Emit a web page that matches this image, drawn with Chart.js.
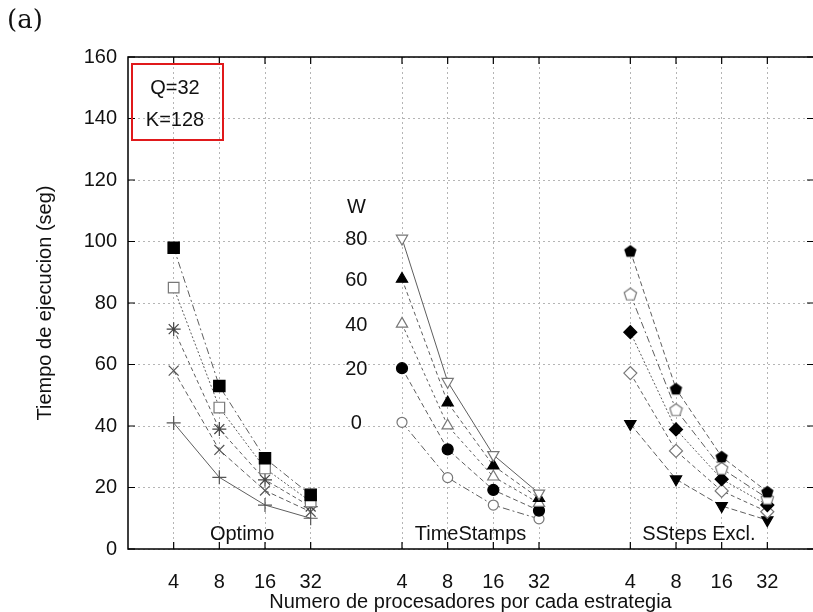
<!DOCTYPE html>
<html><head><meta charset="utf-8">
<script src="https://cdn.jsdelivr.net/npm/chart.js@4"></script>
<style>html,body{margin:0;padding:0;background:#fff}#wrap{width:813px;height:612px}</style>
</head><body><div id="wrap"><canvas id="c" width="813" height="612"></canvas></div>
<script>
// ---- data ----
const procs = ['4', '8', '16', '32'];
const groups = ['Optimo', 'TimeStamps', 'SSteps Excl.'];
const wLevels = ['80', '60', '40', '20', '0'];
const yTickValues = [0, 20, 40, 60, 80, 100, 120, 140, 160];
const keyLines = ['Q=32', 'K=128'];

const optimoW80 = [98.0, 53.0, 29.5, 17.6];
const optimoW60 = [85.0, 46.0, 26.2, 15.4];
const optimoW40 = [71.5, 39.0, 22.5, 13.8];
const optimoW20 = [58.0, 32.2, 19.0, 12.1];
const optimoW0  = [41.0, 23.3, 14.3, 10.0];

const timeStampsW80 = [101.0, 54.4, 30.6, 18.1];
const timeStampsW60 = [87.8, 47.6, 27.1, 16.5];
const timeStampsW40 = [73.2, 40.1, 23.5, 14.9];
const timeStampsW20 = [58.8, 32.4, 19.2, 12.5];
const timeStampsW0  = [41.2, 23.2, 14.3, 9.8];

const sstepsW80 = [96.9, 52.1, 30.0, 18.6];
const sstepsW60 = [82.9, 45.3, 26.2, 16.5];
const sstepsW40 = [70.5, 38.9, 22.7, 14.3];
const sstepsW20 = [57.2, 31.9, 18.9, 12.1];
const sstepsW0  = [40.7, 22.7, 14.0, 9.4];

// ---- styling ----
const FONT = '"Liberation Sans", Arial, Helvetica, sans-serif';
const LINE = '#5e5e5e';
const OPEN = '#777777';

function pentagon(filled) {
  const c = document.createElement('canvas');
  c.width = 15; c.height = 15;
  const g = c.getContext('2d');
  g.beginPath();
  for (let k = 0; k < 5; k++) {
    const a = -Math.PI / 2 + k * 2 * Math.PI / 5;
    const px = 7.5 + 6.5 * Math.cos(a), py = 8 + 6.5 * Math.sin(a);
    k ? g.lineTo(px, py) : g.moveTo(px, py);
  }
  g.closePath();
  if (filled) { g.fillStyle = '#000'; g.fill(); }
  else { g.fillStyle = '#fff'; g.fill(); g.strokeStyle = OPEN; g.lineWidth = 1.2; g.stroke(); }
  return c;
}

const seriesByGroup = [
  [optimoW80, optimoW60, optimoW40, optimoW20, optimoW0],
  [timeStampsW80, timeStampsW60, timeStampsW40, timeStampsW20, timeStampsW0],
  [sstepsW80, sstepsW60, sstepsW40, sstepsW20, sstepsW0]
];

const markerStyles = [
  [
    {ps: 'rect', r: 8, fill: '#000', stroke: '#000', rot: 0, dash: [7, 3, 2, 3]},
    {ps: 'rect', r: 7.5, fill: '#fff', stroke: OPEN, rot: 0, dash: [2, 2]},
    {ps: 'star', r: 7, fill: '#444', stroke: '#444', rot: 0, dash: [4, 3]},
    {ps: 'crossRot', r: 7, fill: '#555', stroke: '#555', rot: 0, dash: [5, 3]},
    {ps: 'cross', r: 7, fill: '#555', stroke: '#555', rot: 0, dash: []}
  ],
  [
    {ps: 'triangle', r: 6.5, fill: '#fff', stroke: OPEN, rot: 180, dash: []},
    {ps: 'triangle', r: 6.5, fill: '#000', stroke: '#000', rot: 0, dash: [4, 3]},
    {ps: 'triangle', r: 6.5, fill: '#fff', stroke: OPEN, rot: 0, dash: [3, 3]},
    {ps: 'circle', r: 5.5, fill: '#000', stroke: '#000', rot: 0, dash: [5, 3]},
    {ps: 'circle', r: 5, fill: '#fff', stroke: OPEN, rot: 0, dash: [7, 3, 2, 3]}
  ],
  [
    {ps: pentagon(true), r: 7, fill: '#000', stroke: '#000', rot: 0, dash: [5, 3]},
    {ps: pentagon(false), r: 7, fill: '#fff', stroke: OPEN, rot: 0, dash: [7, 3, 2, 3]},
    {ps: 'rectRot', r: 6.5, fill: '#000', stroke: '#000', rot: 0, dash: [2, 2]},
    {ps: 'rectRot', r: 6.5, fill: '#fff', stroke: OPEN, rot: 0, dash: [4, 3]},
    {ps: 'triangle', r: 6.5, fill: '#000', stroke: '#000', rot: 180, dash: [6, 3]}
  ]
];

// slot position on the x axis: each group occupies 4 slots followed by a gap slot
const slotOf = (g, i) => g * 5 + i + 1;

const datasets = [];
seriesByGroup.forEach((list, g) => {
  list.forEach((vals, w) => {
    const m = markerStyles[g][w];
    datasets.push({
      label: groups[g] + ' W=' + wLevels[w],
      data: vals.map((v, i) => ({x: slotOf(g, i), y: v})),
      borderColor: LINE,
      borderWidth: 1,
      borderDash: m.dash,
      pointStyle: m.ps,
      pointRadius: m.r,
      pointRotation: m.rot,
      pointBackgroundColor: m.fill,
      pointBorderColor: m.stroke,
      pointBorderWidth: 1.2,
      tension: 0,
      fill: false
    });
  });
});

const xTickValues = [];
groups.forEach((_, g) => procs.forEach((_, i) => xTickValues.push(slotOf(g, i))));

const decor = {
  id: 'decor',
  afterDatasetsDraw(chart) {
    const {ctx, chartArea: a, scales: {x, y}} = chart;
    const right = chart.width;
    ctx.save();
    // frame (right side falls just outside the picture)
    ctx.strokeStyle = '#000';
    ctx.lineWidth = 1.5;
    ctx.beginPath();
    ctx.moveTo(right, a.top); ctx.lineTo(a.left, a.top); ctx.lineTo(a.left, a.bottom); ctx.lineTo(right, a.bottom);
    ctx.stroke();
    // inward ticks
    ctx.lineWidth = 1.2;
    ctx.beginPath();
    xTickValues.forEach(v => {
      const px = x.getPixelForValue(v);
      ctx.moveTo(px, a.bottom); ctx.lineTo(px, a.bottom - 7);
      ctx.moveTo(px, a.top); ctx.lineTo(px, a.top + 7);
    });
    yTickValues.forEach(v => {
      const py = y.getPixelForValue(v);
      ctx.moveTo(a.left, py); ctx.lineTo(a.left + 7, py);
      ctx.moveTo(right, py); ctx.lineTo(right - 6, py);
    });
    ctx.stroke();

    // group labels
    ctx.fillStyle = '#111';
    ctx.font = '20px ' + FONT;
    ctx.textAlign = 'center';
    ctx.textBaseline = 'middle';
    groups.forEach((name, g) => {
      ctx.fillText(name, x.getPixelForValue(slotOf(g, 0) + 1.5), y.getPixelForValue(4.8));
    });

    // W legend in the gap before TimeStamps, aligned with the first TimeStamps points
    const wx = x.getPixelForValue(slotOf(1, 0) - 1);
    ctx.fillText('W', wx, y.getPixelForValue(seriesByGroup[1][0][0] + 10));
    wLevels.forEach((lab, w) => {
      ctx.fillText(lab, wx, y.getPixelForValue(seriesByGroup[1][w][0] - 0.5));
    });

    // key box
    const bx = a.left + 4, by = a.top + 7, bw = 91, bh = 76;
    ctx.strokeStyle = '#e0191b';
    ctx.lineWidth = 2;
    ctx.strokeRect(bx, by, bw, bh);
    ctx.fillStyle = '#111';
    ctx.fillText(keyLines[0], bx + 43, by + 24);
    ctx.fillText(keyLines[1], bx + 43, by + 56);

    // panel tag
    ctx.font = '26px "DejaVu Serif", "Liberation Serif", serif';
    ctx.textAlign = 'left';
    ctx.fillText('(a)', 7, 21);
    ctx.restore();
  }
};

new Chart(document.getElementById('c'), {
  type: 'line',
  data: {datasets},
  options: {
    responsive: false,
    animation: false,
    devicePixelRatio: 1,
    layout: {padding: {top: 57, right: 0, left: 0, bottom: 0}, autoPadding: false},
    plugins: {legend: {display: false}, tooltip: {enabled: false}},
    scales: {
      x: {
        type: 'linear',
        min: 0,
        max: 15,
        afterBuildTicks: s => { s.ticks = xTickValues.map(v => ({value: v})); },
        afterFit: s => { s.height = 63; s.paddingLeft = 0; s.paddingRight = 0; },
        ticks: {
          callback: v => procs[(v - 1) % 5],
          font: {family: FONT, size: 20},
          color: '#111',
          padding: 21,
          maxRotation: 0,
          autoSkip: false
        },
        grid: {color: '#b5b5b5', lineWidth: 1, drawTicks: false},
        border: {display: false, dash: [2, 3]},
        title: {
          display: true,
          text: 'Numero de procesadores por cada estrategia',
          font: {family: FONT, size: 20},
          color: '#111',
          padding: {top: 0, bottom: -2}
        }
      },
      y: {
        min: 0,
        max: 160,
        afterBuildTicks: s => { s.ticks = yTickValues.map(v => ({value: v})); },
        afterFit: s => { s.width = 128; s.paddingTop = 0; s.paddingBottom = 0; },
        ticks: {
          font: {family: FONT, size: 20},
          color: '#111',
          padding: 11
        },
        grid: {color: '#b5b5b5', lineWidth: 1, drawTicks: false},
        border: {display: false, dash: [2, 3]},
        title: {
          display: true,
          text: 'Tiempo de ejecucion (seg)',
          font: {family: FONT, size: 20},
          color: '#111',
          padding: {top: 33, bottom: 0}
        }
      }
    }
  },
  plugins: [decor]
});
</script>
</body></html>
